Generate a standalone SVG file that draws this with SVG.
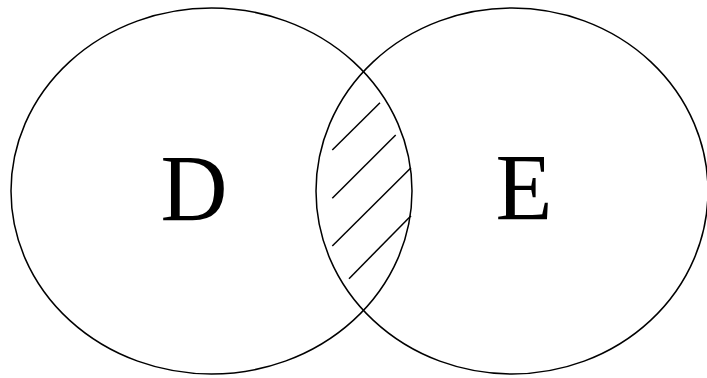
<svg xmlns="http://www.w3.org/2000/svg" width="707" height="378" viewBox="0 0 707 378">
<style>
.set{fill:none;stroke:#000;stroke-width:1.5}
.hatch{stroke:#000;stroke-width:1.5;fill:none}
.lbl{font-family:"Liberation Serif","Times New Roman",serif;font-size:96px;fill:#000;text-anchor:middle}
</style>
<rect width="707" height="378" fill="#fff"/>
<g id="D">
<ellipse class="set" cx="211.5" cy="191" rx="200.5" ry="183"/>
<text class="lbl" x="194" y="220.5" textLength="67" lengthAdjust="spacingAndGlyphs">D</text>
</g>
<g id="E">
<ellipse class="set" cx="512" cy="191" rx="196" ry="183"/>
<text class="lbl" x="524" y="219.5" textLength="57" lengthAdjust="spacingAndGlyphs">E</text>
</g>
<g id="intersection-hatch">
<line class="hatch" x1="332.3" y1="150" x2="380" y2="102.7"/>
<line class="hatch" x1="332.3" y1="198.3" x2="395.7" y2="135"/>
<line class="hatch" x1="332.3" y1="246" x2="411" y2="167.7"/>
<line class="hatch" x1="349" y1="278.7" x2="411" y2="215.7"/>
</g>
</svg>
